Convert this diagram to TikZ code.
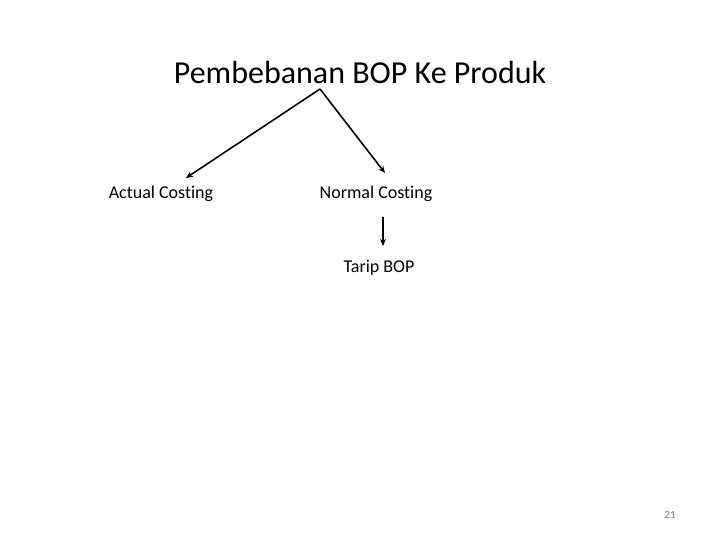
\documentclass[tikz,border=0pt]{standalone}
\usepackage{fontspec}
\setmainfont{Carlito}[Ligatures={NoCommon}]
\usetikzlibrary{arrows.meta}
\begin{document}
\begin{tikzpicture}[x=1pt,y=-1pt,
  lbl/.style={inner sep=0pt,font=\fontsize{18}{21}\selectfont},
  conn/.style={line width=1.6pt,-{Stealth[length=7pt,width=6pt]}}]
\useasboundingbox (0,0) rectangle (720,540);
\node[inner sep=0pt,font=\fontsize{32}{36}\selectfont] (title) at (360,73) {Pembebanan BOP Ke Produk};
\coordinate (apex) at (320,89);
\coordinate (lend) at (186,178);
\coordinate (rend) at (385,173);
\node[lbl] (actual) at (161,194) {Actual Costing};
\node[lbl] (normal) at (376,194) {Normal Costing};
\node[lbl] (tarip) at (379,268) {Tarip BOP};
\coordinate (vtop) at (383,217);
\coordinate (vend) at (383,246);
\node[inner sep=0pt,font=\fontsize{11}{13}\selectfont,text=gray] (num) at (670,515) {21};
\draw[conn] (apex) -- (lend);
\draw[conn] (apex) -- (rend);
\draw[conn] (vtop) -- (vend);
\end{tikzpicture}
\end{document}
